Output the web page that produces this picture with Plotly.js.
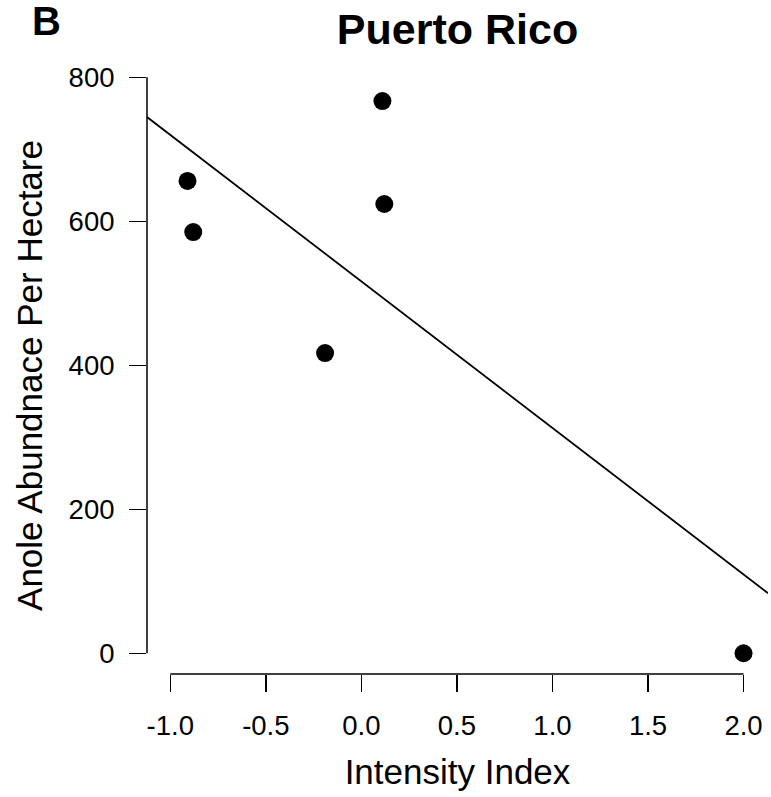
<!DOCTYPE html>
<html>
<head>
<meta charset="utf-8">
<script src="https://cdn.plot.ly/plotly-3.0.1.min.js"></script>
<style>html,body{margin:0;padding:0;background:#fff;}#chart{width:771px;height:797px;}</style>
</head>
<body>
<div id="chart"></div>
<script>
// Data
const intensityIndex = [-0.91, -0.88, -0.19, 0.11, 0.12, 2.0];
const anoleAbundance = [656, 585, 417, 767, 624, 0];
// Fitted regression line (intercept, slope) as drawn in the figure
const fitIntercept = 516.5;
const fitSlope = -203.5;
const xTicks = [-1.0, -0.5, 0.0, 0.5, 1.0, 1.5, 2.0];
const xTickLabels = ["-1.0", "-0.5", "0.0", "0.5", "1.0", "1.5", "2.0"];
const yTicks = [0, 200, 400, 600, 800];
const yTickLabels = ["0", "200", "400", "600", "800"];

const xRange = [-1.122, 2.128];
const yRange = [-28.8, 800.4];
const fitX = xRange.slice();
const fitY = fitX.map(x => fitIntercept + fitSlope * x);

const font = "Liberation Sans, Arial, Helvetica, sans-serif";

const traces = [
  {x: fitX, y: fitY, mode: "lines", type: "scatter",
   line: {color: "#000", width: 1.8}, hoverinfo: "skip", cliponaxis: true},
  {x: intensityIndex, y: anoleAbundance, mode: "markers", type: "scatter",
   marker: {color: "#000", size: 18}, cliponaxis: false}
];

const layout = {
  width: 771, height: 797,
  margin: {l: 147, r: 3, t: 77, b: 123, pad: 0},
  paper_bgcolor: "#fff", plot_bgcolor: "#fff",
  showlegend: false,
  font: {family: font, color: "#000"},
  title: {text: "<b>Puerto Rico</b>", font: {family: font, size: 43, color: "#000"},
          x: 0.5, xref: "paper", y: 1, yref: "container", yanchor: "top", pad: {t: 14}},
  xaxis: {
    range: xRange, showgrid: false, zeroline: false, showline: false,
    tickmode: "array", tickvals: xTicks, ticktext: xTickLabels,
    ticks: "outside", ticklen: 17, tickwidth: 1.5, tickcolor: "#000",
    tickfont: {family: font, size: 27.5, color: "#000"}, ticklabelstandoff: 10,
    title: {text: "Intensity Index", font: {family: font, size: 35, color: "#000"}, standoff: 19}
  },
  yaxis: {
    range: yRange, showgrid: false, zeroline: false, showline: false,
    tickmode: "array", tickvals: yTicks, ticktext: yTickLabels,
    ticks: "outside", ticklen: 17, tickwidth: 1.5, tickcolor: "#000",
    tickfont: {family: font, size: 27.5, color: "#000"}, ticklabelstandoff: 9,
    title: {text: "Anole Abundnace Per Hectare", font: {family: font, size: 35, color: "#000"}, standoff: 15}
  },
  shapes: [
    {type: "line", xref: "x", yref: "paper", x0: xTicks[0], x1: xTicks[xTicks.length - 1], y0: 0, y1: 0,
     line: {color: "#000", width: 1.5}},
    {type: "line", xref: "paper", yref: "y", x0: 0, x1: 0, y0: yTicks[0], y1: yTicks[yTicks.length - 1],
     line: {color: "#000", width: 1.5}}
  ],
  annotations: [
    {text: "<b>B</b>", xref: "paper", yref: "paper", x: -147/621, y: 1 + 77/597, xanchor: "left", yanchor: "top",
     xshift: 30, yshift: 3, showarrow: false, font: {family: font, size: 40, color: "#000"}}
  ]
};

Plotly.newPlot("chart", traces, layout, {displayModeBar: false, staticPlot: true});
</script>
</body>
</html>
